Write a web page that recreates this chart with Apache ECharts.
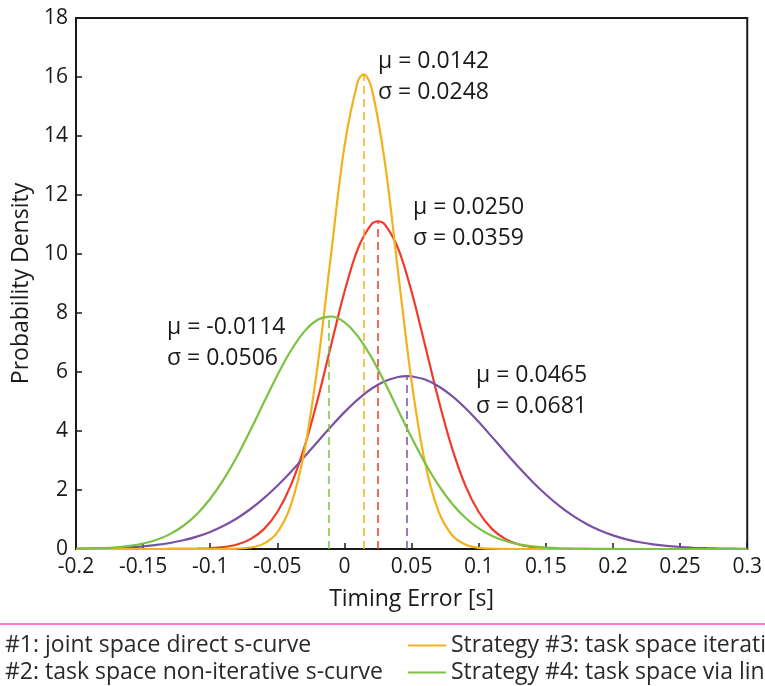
<!DOCTYPE html>
<html>
<head>
<meta charset="utf-8">
<script src="https://cdn.jsdelivr.net/npm/echarts@6/dist/echarts.min.js"></script>
<style>html,body{margin:0;padding:0;background:#fff;}#chart{width:765px;height:686px;}</style>
</head>
<body>
<div id="chart"></div>
<script>
// ---- data ----
const seriesNames = [
  'Strategy #1: joint space direct s-curve',
  'Strategy #2: task space non-iterative s-curve',
  'Strategy #3: task space iterative s-curve',
  'Strategy #4: task space via linear interpolation'
];
const xValues = [-0.2,-0.19,-0.18,-0.17,-0.16,-0.15,-0.14,-0.13,-0.12,-0.11,-0.1,-0.09,-0.08,-0.07,-0.06,-0.05,-0.04,-0.03,-0.02,-0.01,0,0.01,0.02,0.03,0.04,0.05,0.06,0.07,0.08,0.09,0.1,0.11,0.12,0.13,0.14,0.15,0.16,0.17,0.18,0.19,0.2,0.21,0.22,0.23,0.24,0.25,0.26,0.27,0.28,0.29,0.3];
const s1Density = [0,0,0,0,0,0,0,0.001,0.003,0.009,0.026,0.066,0.154,0.335,0.674,1.253,2.157,3.437,5.066,6.910,8.721,10.184,11.005,11.005,10.184,8.721,6.910,5.066,3.437,2.157,1.253,0.674,0.335,0.154,0.066,0.026,0.009,0.003,0.001,0,0,0,0,0,0,0,0,0,0,0,0];
const s2Density = [0.008,0.014,0.023,0.037,0.059,0.091,0.138,0.204,0.295,0.418,0.579,0.786,1.043,1.356,1.725,2.147,2.614,3.117,3.637,4.152,4.640,5.074,5.431,5.689,5.831,5.850,5.744,5.519,5.190,4.777,4.303,3.792,3.272,2.762,2.282,1.846,1.461,1.131,0.858,0.636,0.462,0.328,0.228,0.155,0.103,0.067,0.043,0.027,0.016,0.010,0.006];
const s3Density = [0,0,0,0,0,0,0,0,0,0,0,0.002,0.012,0.051,0.183,0.564,1.477,3.287,6.216,9.993,13.655,15.858,15.653,13.132,9.364,5.676,2.923,1.280,0.476,0.151,0.040,0.009,0.002,0,0,0,0,0,0,0,0,0,0,0,0,0,0,0,0,0,0];
const s4Density = [0.008,0.016,0.031,0.058,0.106,0.185,0.312,0.505,0.788,1.181,1.702,2.359,3.145,4.032,4.971,5.893,6.720,7.369,7.771,7.881,7.686,7.209,6.503,5.641,4.707,3.776,2.913,2.162,1.542,1.059,0.699,0.443,0.271,0.159,0.090,0.049,0.025,0.013,0.006,0.003,0.001,0,0,0,0,0,0,0,0,0,0];
const means  = [0.0250, 0.0465, 0.0142, -0.0114];
const sigmas = [0.0359, 0.0681, 0.0248, 0.0506];
const peaks  = [11.11, 5.86, 16.09, 7.88];

// ---- styling ----
const colors = ['#F03A2A', '#7A52A5', '#F2B21D', '#7CC242'];
const FONT = 'Open Sans';
const FS = 21;      // tick labels
const FSL = 23;     // names, annotations, legend
const TXT = '#1a1a1a';

const densities = [s1Density, s2Density, s3Density, s4Density];
function buildData(ys, mu, pk) {
  const pts = xValues.map((x, i) => [x, ys[i]]);
  pts.push([mu, pk]);
  pts.sort((a, b) => a[0] - b[0]);
  return pts;
}

const series = densities.map((ys, i) => ({
  name: seriesNames[i],
  type: 'line',
  data: buildData(ys, means[i], peaks[i]),
  smooth: 0.35,
  symbol: 'none',
  lineStyle: { color: colors[i], width: 2.2 },
  itemStyle: { color: colors[i] },
  z: 3 + i,
  markLine: {
    silent: true,
    symbol: ['none', 'none'],
    label: { show: false },
    lineStyle: { color: colors[i], type: [8, 5], width: 1.5 },
    data: [[{ coord: [means[i], 0] }, { coord: [means[i], peaks[i]] }]]
  }
}));

// annotation positions (pixel; x = left edge, y = text centre)
const annPos = [
  { x: 413, y1: 207, y2: 238 },
  { x: 476, y1: 375, y2: 406 },
  { x: 378, y1: 61, y2: 92 },
  { x: 167, y1: 327, y2: 358 }
];
const graphics = [];
annPos.forEach((p, i) => {
  graphics.push({ type: 'text', x: p.x, y: p.y1, z: 100,
    style: { text: 'μ = ' + means[i].toFixed(4), font: FSL + 'px "' + FONT + '"', fill: TXT, verticalAlign: 'middle', align: 'left' } });
  graphics.push({ type: 'text', x: p.x, y: p.y2, z: 100,
    style: { text: 'σ = ' + sigmas[i].toFixed(4), font: FSL + 'px "' + FONT + '"', fill: TXT, verticalAlign: 'middle', align: 'left' } });
});
graphics.push({ type: 'line', shape: { x1: 0, y1: 624, x2: 765, y2: 624 },
  style: { stroke: '#FF4FC3', lineWidth: 1.5 }, z: 100 });

// offset left legend so "Strategy " falls outside the left edge
const cv = document.createElement('canvas').getContext('2d');
cv.font = FSL + 'px "' + FONT + '"';
const prefixW = cv.measureText('Strategy ').width;
const leftLegendX = 5 - 38 - 5 - prefixW;

const legendCommon = {
  orient: 'vertical', top: 634, icon: 'rect',
  itemWidth: 38, itemHeight: 2, itemGap: 4, padding: 0,
  textStyle: { fontSize: FSL, color: '#2a2a2a', lineHeight: 21, fontFamily: FONT }
};

const chart = echarts.init(document.getElementById('chart'), null, { renderer: 'canvas' });
chart.setOption({
  animation: false,
  backgroundColor: '#ffffff',
  textStyle: { fontFamily: FONT },
  grid: { left: 76, right: 17, top: 18, bottom: 137, show: true, borderColor: '#1a1a1a', borderWidth: 2, backgroundColor: 'transparent' },
  xAxis: {
    type: 'value', min: -0.2, max: 0.3, interval: 0.05,
    name: 'Timing Error [s]', nameLocation: 'middle', nameGap: 39,
    nameTextStyle: { fontSize: FSL, color: TXT, fontFamily: FONT },
    axisLine: { onZero: false, lineStyle: { color: '#1a1a1a', width: 2 } },
    axisTick: { inside: true, length: 6, lineStyle: { color: '#1a1a1a', width: 1.5 } },
    axisLabel: { fontSize: FS, color: TXT, margin: 8, fontFamily: FONT },
    splitLine: { show: false }
  },
  yAxis: {
    type: 'value', min: 0, max: 18, interval: 2,
    name: 'Probability Density', nameLocation: 'middle', nameGap: 35,
    nameTextStyle: { fontSize: FSL, color: TXT, fontFamily: FONT },
    axisLine: { onZero: false, lineStyle: { color: '#1a1a1a', width: 2 } },
    axisTick: { inside: true, length: 6, lineStyle: { color: '#1a1a1a', width: 1.5 } },
    axisLabel: { fontSize: FS, color: TXT, margin: 8, fontFamily: FONT },
    splitLine: { show: false }
  },
  legend: [
    Object.assign({ data: [seriesNames[0], seriesNames[1]], left: leftLegendX }, legendCommon),
    Object.assign({ data: [seriesNames[2], seriesNames[3]], left: 408 }, legendCommon)
  ],
  graphic: graphics,
  series: series
});
</script>
</body>
</html>
